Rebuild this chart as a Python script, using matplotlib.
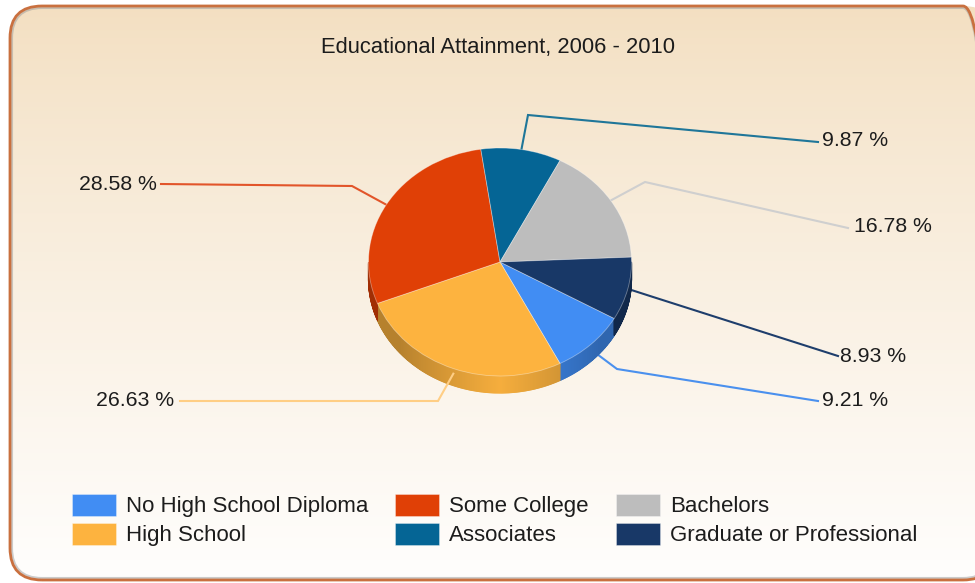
import numpy as np
import matplotlib
matplotlib.use('Agg')
import matplotlib.pyplot as plt
from matplotlib.collections import PolyCollection
from matplotlib.colors import to_rgb
from matplotlib.patches import FancyBboxPatch
from matplotlib.transforms import Affine2D

categories = ['No High School Diploma', 'High School', 'Some College',
              'Associates', 'Bachelors', 'Graduate or Professional']
values = [9.21, 26.63, 28.58, 9.87, 16.78, 8.93]
colors = ['#418DF3', '#FDB33F', '#E04006', '#056595', '#BDBDBD', '#183867']
line_colors = ['#4A90EE', '#FFCE85', '#E2552A', '#1F7699', '#CFCFCF', '#1E3E6C']
title = 'Educational Attainment, 2006 - 2010'

W, H = 975, 583
CX, CY = 500, H - 262
RX, RY, DEPTH = 131.5, 114, 17
START = -29.7

plt.rcParams['font.family'] = ['Liberation Sans', 'DejaVu Sans']
plt.rcParams['text.color'] = '#1c1c1c'

fig = plt.figure(figsize=(W / 100, H / 100), dpi=100)
ax = fig.add_axes([0, 0, 1, 1])

# panel
panel = FancyBboxPatch((10, 3), 985, H - 9, boxstyle='round,pad=0,rounding_size=32',
                       facecolor='none', edgecolor='#C9703F', linewidth=2, zorder=0.4)
ax.add_patch(panel)
shadow = FancyBboxPatch((12, 5), 981, H - 13, boxstyle='round,pad=0,rounding_size=30',
                        facecolor='none', edgecolor='#9a9a9a', linewidth=1.5, alpha=0.5,
                        zorder=0.3)
ax.add_patch(shadow)
grad = np.linspace(0, 1, 256)[:, None, None] ** 0.85
top, bottom = np.array(to_rgb('#F3DFC1')), np.array(to_rgb('#FFFEFD'))
img = ax.imshow(top + (bottom - top) * grad, extent=(0, W, 0, H - 6), origin='upper',
                aspect='auto', zorder=0)
img.set_clip_path(panel)

# top face
wedges, _ = ax.pie(values, colors=colors, startangle=START, counterclock=False,
                   radius=RX, center=(CX, CY),
                   wedgeprops={'edgecolor': '#ffffff60', 'linewidth': 0.6, 'zorder': 2})
squash = Affine2D().translate(-CX, -CY).scale(1, RY / RX).translate(CX, CY) + ax.transData
for w in wedges:
    w.set_transform(squash)

# side wall and leader lines, from the same slice angles
edges = START - np.cumsum([0] + values) * 3.6
polys, poly_colors = [], []
for i in range(len(values)):
    steps = np.append(np.arange(edges[i], edges[i + 1], -0.5), edges[i + 1])
    for s0, s1 in zip(steps[:-1], steps[1:]):
        t = np.radians([s0, s1])
        if np.sin(t).max() > 0:
            continue
        xs, ys = CX + RX * np.cos(t), CY + RY * np.sin(t)
        polys.append([(xs[0], ys[0]), (xs[1], ys[1]),
                      (xs[1], ys[1] - DEPTH), (xs[0], ys[0] - DEPTH)])
        off = abs(np.degrees(np.arctan2(np.cos(t[0]), -np.sin(t[0])))) / 90
        shade = max(0.72, 0.97 - 0.45 * off)
        poly_colors.append(np.array(to_rgb(colors[i])) * shade)
ax.add_collection(PolyCollection(polys, facecolors=poly_colors, edgecolors=poly_colors,
                                 linewidths=0.8, zorder=1.5))

# elbow and end of each leader, then label anchor, in pixels from the top left
elbows = [(617, 369), (438, 401), (352, 186), (528, 115), (645, 182), (650, 296)]
ends = [(818, 401), (180, 401), (161, 184), (818, 142), (838, 228), (838, 356)]
ends[4] = (848, 228)
labels_at = [(822, 401, 'left'), (174, 401, 'right'), (157, 185, 'right'),
             (822, 141, 'left'), (854, 227, 'left'), (840, 357, 'left')]
for i, v in enumerate(values):
    mid = np.radians((edges[i] + edges[i + 1]) / 2)
    x0, y0 = CX + RX * np.cos(mid), CY + RY * np.sin(mid)
    if np.sin(mid) < -0.3:
        y0 -= DEPTH * 0.3
    ax.plot([x0, elbows[i][0], ends[i][0]], [y0, H - elbows[i][1], H - ends[i][1]],
            color=line_colors[i], linewidth=1.5, zorder=1.8 if i == 1 else 1.2,
            solid_joinstyle='miter')
    lx, ly, ha = labels_at[i]
    ax.text(lx, H - ly, f'{v:.2f} %', ha=ha, va='center', fontsize=15.3, zorder=3)

ax.text(498, H - 47, title, ha='center', va='center', fontsize=15.8, zorder=3)

leg = ax.legend(wedges, categories, ncol=3, frameon=False, fontsize=16,
                loc='upper left', bbox_to_anchor=(65 / W, 1 - 487 / H),
                handlelength=1.98, handleheight=1.15, handletextpad=0.45,
                columnspacing=1.22, labelspacing=0.25, borderpad=0, borderaxespad=0.3)
leg.set_zorder(3)

ax.set_xlim(0, W)
ax.set_ylim(0, H)
ax.set_aspect('auto')
ax.axis('off')
fig.savefig('out.png', dpi=100)
